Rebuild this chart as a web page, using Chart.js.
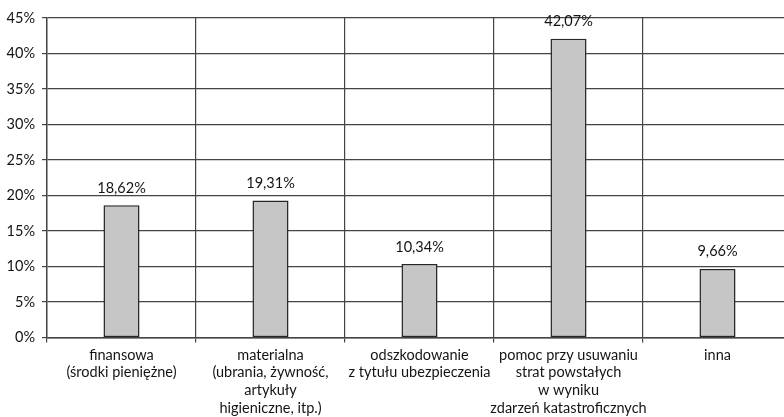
<!DOCTYPE html>
<html lang="pl">
<head>
<meta charset="utf-8">
<script src="https://cdn.jsdelivr.net/npm/chart.js@4/dist/chart.umd.min.js"></script>
<style>
  html, body { margin: 0; padding: 0; background: #fff; overflow: hidden; }
  #wrap { width: 800px; height: 417px; position: relative; }
</style>
</head>
<body>
<div id="wrap"><canvas id="c" width="800" height="417"></canvas></div>
<script>
// Forms of assistance received (share of responses, %)
const categories = [
  ['finansowa', '(środki pieniężne)'],
  ['materialna', '(ubrania, żywność,', 'artykuły', 'higieniczne, itp.)'],
  ['odszkodowanie', 'z tytułu ubezpieczenia'],
  ['pomoc przy usuwaniu', 'strat powstałych', 'w wyniku', 'zdarzeń katastroficznych'],
  ['inna']
];
const shares = [18.62, 19.31, 10.34, 42.07, 9.66];
const yTicks = [0, 5, 10, 15, 20, 25, 30, 35, 40, 45];

const FONT = 'Lato, "Open Sans", sans-serif';
const INK = '#141414';
const GRID = '#444444';

const fmt = v => v.toFixed(2).replace('.', ',') + '%';

// Writes each bar's value above it
const valueLabels = {
  id: 'valueLabels',
  afterDatasetsDraw(chart) {
    const ctx = chart.ctx;
    const meta = chart.getDatasetMeta(0);
    ctx.save();
    ctx.font = '14.5px ' + FONT;
    ctx.fillStyle = INK;
    ctx.textAlign = 'center';
    ctx.textBaseline = 'alphabetic';
    meta.data.forEach((bar, i) => {
      ctx.fillText(fmt(shares[i]), bar.x, bar.y - 12.5);
    });
    ctx.restore();
  }
};

new Chart(document.getElementById('c'), {
  type: 'bar',
  data: {
    labels: categories,
    datasets: [{
      data: shares,
      backgroundColor: '#c6c6c6',
      borderColor: '#262626',
      borderWidth: 1.5,
      borderSkipped: false,
      categoryPercentage: 1,
      barPercentage: 0.242
    }]
  },
  options: {
    responsive: false,
    animation: false,
    devicePixelRatio: 1,
    layout: { padding: { top: 18, right: 8, bottom: 0, left: 0 } },
    plugins: {
      legend: { display: false },
      tooltip: { enabled: false }
    },
    scales: {
      x: {
        offset: true,
        grid: {
          offset: true,
          color: GRID,
          lineWidth: 1.2,
          drawTicks: true,
          tickLength: 5
        },
        border: { color: GRID, width: 1.4 },
        ticks: {
          color: INK,
          font: { family: FONT, size: 14.5, lineHeight: 1.21 },
          padding: 4,
          maxRotation: 0,
          autoSkip: false
        },
        afterFit(scale) { scale.height = 79.5; }
      },
      y: {
        min: 0,
        max: 45,
        afterBuildTicks(scale) {
          scale.ticks = yTicks.map(v => ({ value: v }));
        },
        grid: {
          color: GRID,
          lineWidth: 1.2,
          drawTicks: true,
          tickLength: 5
        },
        border: { color: GRID, width: 1.4 },
        ticks: {
          color: INK,
          font: { family: FONT, size: 14.5 },
          padding: 7,
          callback: v => v + '%'
        },
        afterFit(scale) { scale.width = 47; }
      }
    }
  },
  plugins: [valueLabels]
});
</script>
</body>
</html>
